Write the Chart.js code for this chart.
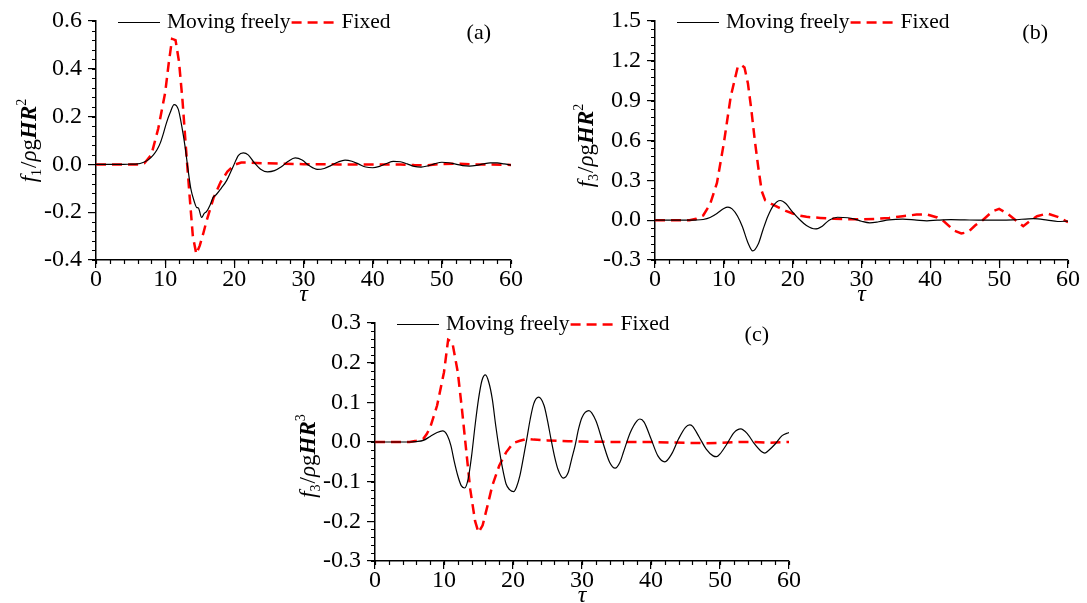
<!DOCTYPE html>
<html>
<head>
<meta charset="utf-8">
<script src="https://cdn.jsdelivr.net/npm/chart.js@4.4.1/dist/chart.umd.min.js"></script>
<style>
  html, body { margin: 0; background: #fff; }
  #wrap { position: relative; width: 1087px; height: 603px; overflow: hidden; }
  canvas { position: absolute; }
</style>
</head>
<body>
<div id="wrap">
  <canvas id="chart-a" width="545" height="306" style="left:0;top:0"></canvas>
  <canvas id="chart-b" width="542" height="306" style="left:545px;top:0"></canvas>
  <canvas id="chart-c" width="540" height="303" style="left:280px;top:300px"></canvas>
</div>
<script>
// ── Data ──────────────────────────────────────────────
const tauTicks = [0, 10, 20, 30, 40, 50, 60];

// (a) surge force f1
const tauA_free = [0, 2, 4, 5, 6, 6.8, 7.6, 8.3, 8.8, 9.3, 9.75, 10.2, 10.7, 11.3, 11.9, 12.4, 12.9, 13.3, 13.7, 14.2, 14.55, 14.8, 15.27, 15.65, 16, 16.5, 16.95, 17.4, 18.1, 18.9, 19.8, 20.6, 21.3, 22, 22.8, 23.8, 24.8, 25.8, 26.8, 27.8, 28.8, 29.8, 30.8, 32, 33, 34, 35, 36, 37, 38, 39, 40, 41, 42, 43, 44, 45, 46, 47, 48, 49, 50, 51, 52, 53, 54, 55, 56, 57, 58, 59, 60];
const fA_free   = [0, 0, 0, 0.001, 0.002, 0.008, 0.02, 0.04, 0.06, 0.09, 0.13, 0.175, 0.215, 0.25, 0.23, 0.16, 0.07, -0.02, -0.1, -0.155, -0.18, -0.182, -0.222, -0.205, -0.197, -0.17, -0.137, -0.126, -0.1, -0.067, -0.011, 0.038, 0.048, 0.04, 0.01, -0.02, -0.031, -0.026, -0.01, 0.013, 0.027, 0.018, -0.005, -0.021, -0.017, -0.004, 0.01, 0.018, 0.013, 0.001, -0.011, -0.014, -0.008, 0.004, 0.013, 0.011, 0.002, -0.008, -0.011, -0.006, 0.003, 0.009, 0.007, 0.001, -0.005, -0.007, -0.004, 0.002, 0.006, 0.006, 0.002, -0.003];
const tauA_fixed = [0, 6, 7, 8, 9, 10, 10.5, 11, 11.5, 12, 12.5, 13, 13.5, 14, 14.5, 15, 15.5, 16, 17, 18, 19, 20, 21, 22, 24, 27, 30, 35, 40, 44, 46, 48, 50, 52, 55, 60];
const fA_fixed   = [0, 0, 0.005, 0.04, 0.15, 0.3, 0.42, 0.525, 0.52, 0.43, 0.27, 0.07, -0.12, -0.3, -0.375, -0.34, -0.29, -0.235, -0.14, -0.075, -0.03, -0.002, 0.008, 0.008, 0.005, 0.003, 0.001, 0, 0, 0, -0.003, -0.004, 0.002, 0.003, 0, -0.002];

// (b) heave force f3
const tauB_free = [0, 4, 6, 7, 8, 9, 10, 10.6, 11.2, 12, 12.7, 13.5, 14.2, 15, 15.7, 16.4, 17.2, 18.2, 19, 20, 21, 22, 23.3, 24.3, 25.3, 26.5, 28, 29, 30, 31.2, 32.5, 34, 36, 38, 39.5, 41, 43, 45, 47, 50, 52, 55, 57, 58.5, 60];
const fB_free   = [0, 0, 0.001, 0.005, 0.02, 0.05, 0.088, 0.098, 0.085, 0.03, -0.05, -0.17, -0.232, -0.18, -0.07, 0.03, 0.11, 0.148, 0.125, 0.06, 0.005, -0.04, -0.066, -0.045, 0, 0.022, 0.018, 0.008, -0.008, -0.02, -0.012, 0.002, 0.008, 0, -0.005, 0, 0.004, 0.002, 0, 0, 0.002, 0.012, 0.001, -0.01, -0.007];
const tauB_fixed = [0, 5, 6, 7, 8, 9, 10, 11, 12, 12.5, 13, 13.5, 14, 14.5, 15, 15.5, 16, 17, 18, 19, 20, 21, 22, 24, 26, 28, 30, 32, 34, 36, 38, 39.5, 41, 42, 43.5, 44.5, 45.5, 46.5, 47.6, 49, 50, 51.2, 52.4, 53.5, 54.5, 55.5, 57, 58.5, 60];
const fB_fixed   = [0, 0, 0.01, 0.035, 0.12, 0.28, 0.58, 0.93, 1.15, 1.17, 1.15, 1.03, 0.83, 0.6, 0.4, 0.22, 0.15, 0.12, 0.095, 0.07, 0.05, 0.035, 0.025, 0.017, 0.01, 0.007, 0.006, 0.01, 0.017, 0.03, 0.042, 0.043, 0.02, -0.01, -0.08, -0.1, -0.09, -0.04, 0, 0.065, 0.085, 0.05, 0, -0.045, -0.005, 0.03, 0.05, 0.025, -0.015];

// (c) pitch moment f3
const tauC_free = [0, 5, 6, 7, 8, 9, 9.8, 10.5, 11, 11.5, 12, 12.5, 13, 13.5, 14, 14.5, 15, 15.5, 16, 16.5, 17, 17.5, 18, 18.5, 19, 19.5, 20.1, 20.5, 21, 21.5, 22, 22.5, 23, 23.7, 24.5, 25, 25.5, 26, 26.5, 27.3, 28, 28.5, 29, 29.5, 30, 31, 32, 33, 34, 34.8, 35.5, 36, 37, 38, 38.4, 39, 40, 41, 42, 43, 44, 45, 45.6, 46, 47, 48, 49, 49.5, 50, 51, 52, 53, 54, 55, 56, 56.5, 57, 58, 59, 60];
const fC_free   = [0, 0, 0.001, 0.004, 0.014, 0.024, 0.028, 0.016, -0.009, -0.05, -0.085, -0.11, -0.116, -0.093, -0.035, 0.041, 0.108, 0.155, 0.169, 0.15, 0.108, 0.041, -0.018, -0.068, -0.106, -0.12, -0.125, -0.114, -0.085, -0.04, 0.008, 0.058, 0.096, 0.113, 0.092, 0.054, 0.008, -0.035, -0.068, -0.091, -0.077, -0.043, -0.009, 0.033, 0.062, 0.079, 0.054, 0, -0.051, -0.066, -0.051, -0.026, 0.024, 0.054, 0.058, 0.05, 0.008, -0.035, -0.05, -0.03, 0.008, 0.037, 0.043, 0.04, 0.012, -0.018, -0.035, -0.037, -0.03, -0.005, 0.023, 0.033, 0.02, -0.005, -0.024, -0.028, -0.022, -0.005, 0.016, 0.024];
const tauC_fixed = [0, 5, 6, 7, 7.5, 8, 9, 10, 10.6, 11.2, 12, 12.6, 13.2, 13.8, 14.5, 15, 15.6, 16.3, 17, 18, 19, 20, 21, 22, 23, 25, 28, 30, 35, 40, 45, 48, 50, 53, 55, 57, 60];
const fC_fixed   = [0, 0, 0.003, 0.008, 0.02, 0.037, 0.092, 0.176, 0.258, 0.252, 0.176, 0.083, -0.018, -0.119, -0.199, -0.228, -0.21, -0.161, -0.11, -0.06, -0.026, -0.003, 0.003, 0.008, 0.006, 0.004, 0.002, 0.001, 0, 0, -0.002, -0.003, -0.002, 0, 0, -0.002, 0];

const seriesNames = ['Moving freely', 'Fixed'];

// ── Styling ───────────────────────────────────────────
const SERIF = "'Liberation Serif', 'Times New Roman', serif";
Chart.defaults.font.family = SERIF;
Chart.defaults.color = '#000';
const RED = '#ff0000';
const DASH = [10, 6];

const pts = (xs, ys) => xs.map((x, i) => ({ x, y: ys[i] }));

// y title pieces: [text, kind]
function yTitle(idx, pow) {
  return [['f', 'it'], [idx, 'sub'], ['/', 'rm'], ['ρ', 'it'], ['g', 'rm'], ['HR', 'bi'], [pow, 'sup']];
}

function fontFor(kind, size) {
  if (kind === 'it') return `italic ${size}px ${SERIF}`;
  if (kind === 'bi') return `italic bold ${size}px ${SERIF}`;
  if (kind === 'sub' || kind === 'sup') return `${Math.round(size * 0.62)}px ${SERIF}`;
  return `${size}px ${SERIF}`;
}

// decorations: minor ticks, axis titles, legend, panel tag
const decor = {
  id: 'decor',
  afterDraw(chart, args, o) {
    const { ctx, chartArea: a, scales } = chart;
    ctx.save();
    ctx.strokeStyle = '#000';
    ctx.lineWidth = 1.2;
    // minor ticks
    const xs = scales.x, ys = scales.y;
    ctx.beginPath();
    for (let v = xs.min; v <= xs.max + 1e-9; v += o.xMinor) {
      const p = Math.round(xs.getPixelForValue(v)) + 0.5;
      ctx.moveTo(p, a.bottom); ctx.lineTo(p, a.bottom + 4);
    }
    const n = Math.round((ys.max - ys.min) / o.yMinor);
    for (let i = 0; i <= n; i++) {
      const p = Math.round(ys.getPixelForValue(ys.min + i * o.yMinor)) + 0.5;
      ctx.moveTo(a.left, p); ctx.lineTo(a.left - 4, p);
    }
    ctx.stroke();

    // y title (rotated)
    const size = 23;
    const parts = o.yTitle;
    let w = 0;
    parts.forEach(([t, k]) => { ctx.font = fontFor(k, size); w += ctx.measureText(t).width + (k === 'sub' ? 1 : 0); });
    ctx.translate(o.yTitleX, (a.top + a.bottom) / 2 + o.yTitleShift);
    ctx.rotate(-Math.PI / 2);
    ctx.fillStyle = '#000';
    ctx.textBaseline = 'alphabetic';
    let x = -w / 2;
    parts.forEach(([t, k]) => {
      ctx.font = fontFor(k, size);
      const dy = k === 'sub' ? 5 : k === 'sup' ? -10 : 0;
      ctx.fillText(t, x, dy);
      x += ctx.measureText(t).width + (k === 'sub' ? 1 : 0);
    });
    ctx.setTransform(1, 0, 0, 1, 0, 0);

    // x title
    ctx.font = `italic 24px ${SERIF}`;
    ctx.textAlign = 'center';
    ctx.fillText('τ', (a.left + a.right) / 2, a.bottom + 41);

    // panel tag
    ctx.font = `22px ${SERIF}`;
    ctx.textAlign = 'right';
    ctx.fillText(o.tag, a.right - 20, a.top + 18);

    // legend
    const ly = a.top + 1.5;
    let lx = a.left + 22;
    ctx.textAlign = 'left';
    ctx.textBaseline = 'middle';
    ctx.font = `21.5px ${SERIF}`;
    ctx.lineWidth = 1.2;
    ctx.beginPath(); ctx.moveTo(lx, ly); ctx.lineTo(lx + 42, ly); ctx.stroke();
    lx += 49;
    ctx.fillText(seriesNames[0], lx, ly);
    lx += ctx.measureText(seriesNames[0]).width + 1;
    ctx.strokeStyle = RED; ctx.lineWidth = 2.5; ctx.setLineDash(DASH);
    ctx.beginPath(); ctx.moveTo(lx, ly); ctx.lineTo(lx + 44, ly); ctx.stroke();
    ctx.setLineDash([]);
    ctx.fillText(seriesNames[1], lx + 50, ly);
    ctx.restore();
  }
};

function makePanel(id, p) {
  const axisFont = { size: 24 };
  return new Chart(document.getElementById(id), {
    type: 'line',
    data: {
      datasets: [
        { label: seriesNames[0], data: pts(p.tauFree, p.free), borderColor: '#000', borderWidth: 1.2,
          pointRadius: 0, cubicInterpolationMode: 'monotone', fill: false },
        { label: seriesNames[1], data: pts(p.tauFixed, p.fixed), borderColor: RED, borderWidth: 2.5,
          borderDash: DASH, pointRadius: 0, tension: 0, fill: false },
      ],
    },
    options: {
      responsive: false,
      animation: false,
      devicePixelRatio: 1,
      layout: { padding: { top: p.top, right: p.right, left: 0, bottom: p.bottom } },
      plugins: {
        legend: { display: false },
        tooltip: { enabled: false },
        decor: { xMinor: 2, yMinor: p.yMinor, yTitle: p.title, yTitleX: p.titleX, yTitleShift: p.titleShift, tag: p.tag },
      },
      scales: {
        x: {
          type: 'linear', min: 0, max: 60,
          afterBuildTicks: s => { s.ticks = tauTicks.map(v => ({ value: v })); },
          ticks: { font: axisFont, padding: -3, maxRotation: 0, autoSkip: false, color: '#000' },
          grid: { drawOnChartArea: false, tickLength: 8, color: '#000', lineWidth: 1.2 },
          border: { color: '#000', width: 1.5 },
          afterFit: s => { s.height = p.xh; },
        },
        y: {
          min: p.yMin, max: p.yMax,
          ticks: { stepSize: p.yStep, font: axisFont, padding: 6, autoSkip: false, color: '#000',
                   callback: v => (Math.abs(v) < 1e-9 ? 0 : v).toFixed(1) },
          grid: { drawOnChartArea: false, tickLength: 8, color: '#000', lineWidth: 1.2 },
          border: { color: '#000', width: 1.5 },
          afterFit: s => { s.width = p.yw; },
        },
      },
    },
    plugins: [decor],
  });
}

// ── Panels ────────────────────────────────────────────
makePanel('chart-a', {
  tauFree: tauA_free, free: fA_free, tauFixed: tauA_fixed, fixed: fA_fixed,
  yMin: -0.4, yMax: 0.6, yStep: 0.2, yMinor: 0.04,
  title: yTitle('1', '2'), titleX: 36, titleShift: 0, tag: '(a)',
  top: 21, right: 34, bottom: 4, yw: 96, xh: 42,
});
makePanel('chart-b', {
  tauFree: tauB_free, free: fB_free, tauFixed: tauB_fixed, fixed: fB_fixed,
  yMin: -0.3, yMax: 1.5, yStep: 0.3, yMinor: 0.06,
  title: yTitle('3', '2'), titleX: 48, titleShift: 5, tag: '(b)',
  top: 21, right: 19, bottom: 4, yw: 110, xh: 42,
});
makePanel('chart-c', {
  tauFree: tauC_free, free: fC_free, tauFixed: tauC_fixed, fixed: fC_fixed,
  yMin: -0.3, yMax: 0.3, yStep: 0.1, yMinor: 0.02,
  title: yTitle('3', '3'), titleX: 35, titleShift: 14, tag: '(c)',
  top: 23, right: 31, bottom: 0, yw: 95, xh: 42,
});
</script>
</body>
</html>
